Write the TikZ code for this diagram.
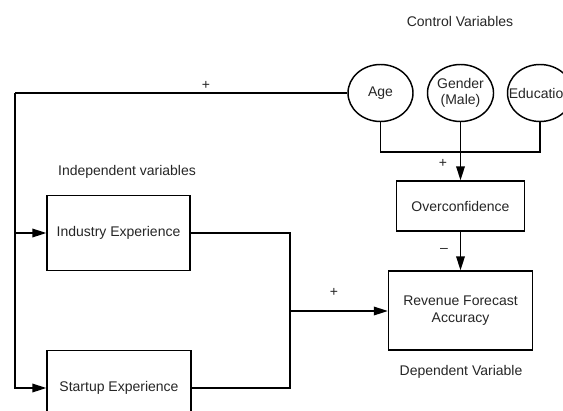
\documentclass[tikz,border=0pt]{standalone}
\usepackage{fontspec}
\setmainfont{Liberation Sans}
\usetikzlibrary{shapes.geometric,arrows.meta}
\begin{document}
\begin{tikzpicture}[x=0.75pt,y=-0.75pt,
  every node/.style={font=\fontsize{10.5}{12.5}\selectfont, text=black!85},
  circ/.style={draw, ellipse, line width=1.1pt, minimum width=48.75pt, minimum height=42.75pt, inner sep=0pt, align=center},
  boxn/.style={draw, rectangle, line width=1.1pt, inner sep=0pt, align=center},
  line/.style={line width=1.1pt},
  arr/.style={line width=1.1pt, -{Triangle[length=10.5pt,width=6.5pt]}},
  lbl/.style={inner sep=0pt}
]
\useasboundingbox (0,0) rectangle (563,410);
\clip (0,0) rectangle (563,410);
\fill[white] (0,0) rectangle (563,410);

% titles
\node[lbl] (ctitle) at (460,21) {Control Variables};
\node[lbl] (ititle) at (127,172) {Independent variables};
\node[lbl] (dtitle) at (461,372) {Dependent Variable};

% control variables
\node[circ] (age) at (380.5,93) {Age};
\node[circ] (gender) at (460.5,93) {Gender\\(Male)};
\node[circ] (edu) at (540,93) {\makebox[0pt]{Education}};

% boxes
\node[boxn, minimum width=96pt, minimum height=37.5pt] (over) at (460.5,206) {Overconfidence};
\node[boxn, minimum width=108pt, minimum height=59.25pt] (rfa) at (460.5,310.5) {Revenue Forecast\\Accuracy};
\node[boxn, minimum width=107.25pt, minimum height=56.25pt] (industry) at (118.5,233) {Industry Experience};
\node[boxn, minimum width=108pt, minimum height=56.25pt] (startup) at (119,388) {Startup Experience};

% coordinates
\coordinate (tl) at (15,93);
\coordinate (bar) at (460.5,152);
\coordinate (jx) at (290,311);

% connectors
\draw[line] (age.west) -- (tl);
\draw[arr] (tl) |- (startup.west);
\draw[arr] (tl |- industry.west) -- (industry.west);
\draw[line] (age.south) |- (bar) -| (edu.south);
\draw[arr] (gender.south) -- (over.north);
\draw[arr] (over.south) -- (rfa.north);
\draw[line] (industry.east) -| (jx);
\draw[line] (startup.east) -| (jx);
\draw[arr] (jx) -- (jx -| rfa.west);

% signs
\node[lbl] (p1) at (206,85) {+};
\node[lbl] (p2) at (443,163) {+};
\node[lbl] (m1) at (444,250) {\textendash};
\node[lbl] (p3) at (334,292) {+};
\end{tikzpicture}
\end{document}
